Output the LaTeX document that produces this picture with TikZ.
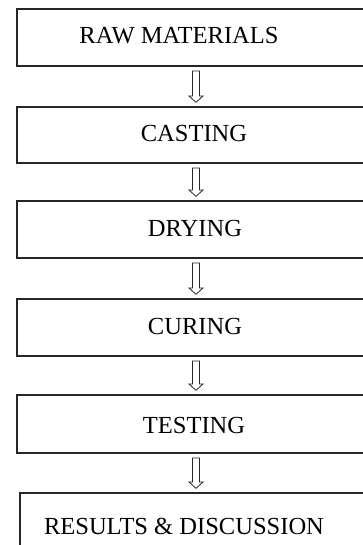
\documentclass[tikz,border=0pt]{standalone}
\usepackage{fontspec}
\setmainfont{Liberation Serif}
\usetikzlibrary{calc}
\begin{document}
\begin{tikzpicture}[x=0.75pt,y=-0.75pt,
  stagebox/.style={draw=black!85, line width=1pt, rectangle, inner sep=0pt, outer sep=0pt,
    minimum width=268.5pt, minimum height=42.75pt},
  stagetext/.style={anchor=base, inner sep=0pt, font=\fontsize{18.4}{21}\selectfont},
  hollow/.style={draw=black!85, line width=0.6pt, line join=miter,
    to path={let \p1=(\tikztostart.south), \p2=(\tikztotarget.north) in
      (\x1-2.625pt,\y1-3.75pt) -- (\x1-2.625pt,\y2+8.25pt) -- (\x1-5.25pt,\y2+8.25pt)
      -- (\x1,\y2+3.5pt) -- (\x1+5.25pt,\y2+8.25pt) -- (\x1+2.625pt,\y2+8.25pt)
      -- (\x1+2.625pt,\y1-3.75pt) -- cycle}}]
\useasboundingbox (0,0) rectangle (363,545);
\clip (0,0) rectangle (363,545);
\node[stagebox] (b1) at (196,37.5) {};
\node[stagebox, minimum height=42pt] (b2) at (196,135) {};
\node[stagebox] (b3) at (196,229.5) {};
\node[stagebox] (b4) at (196,327.5) {};
\node[stagebox, minimum height=43.5pt] (b5) at (196,424) {};
\node[stagebox, minimum width=264pt, minimum height=54pt] (b6) at (196,529) {};
\node[stagetext] (t1) at (179,44) {RAW MATERIALS};
\node[stagetext] (t2) at (194,142) {CASTING};
\node[stagetext] (t3) at (195,236) {DRYING};
\node[stagetext] (t4) at (195,334) {CURING};
\node[stagetext] (t5) at (194,433) {TESTING};
\node[stagetext] (t6) at (184,534) {RESULTS \& DISCUSSION};
\draw[hollow] (b1) to (b2);
\draw[hollow] (b2) to (b3);
\draw[hollow] (b3) to (b4);
\draw[hollow] (b4) to (b5);
\draw[hollow] (b5) to (b6);
\end{tikzpicture}
\end{document}
